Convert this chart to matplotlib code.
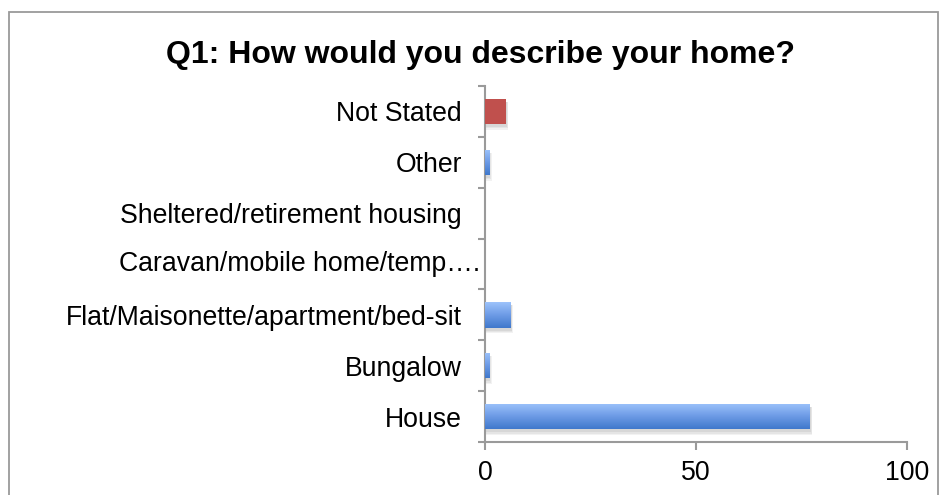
import numpy as np
import matplotlib.pyplot as plt
from matplotlib.colors import LinearSegmentedColormap
from matplotlib.patches import Rectangle
from matplotlib.transforms import blended_transform_factory

plt.rcParams['font.family'] = ['Liberation Sans', 'DejaVu Sans']

# Survey responses, bottom row first
categories = ["House", "Bungalow", "Flat/Maisonette/apartment/bed-sit",
              "Caravan/mobile home/temp….", "Sheltered/retirement housing",
              "Other", "Not Stated"]
percentages = [77, 1, 6, 0, 0, 1, 5]
xticks = [0, 50, 100]

axis_grey = "#9a9a9a"
blue_grad = LinearSegmentedColormap.from_list("bluegrad",
                                              ["#3f78cc", "#6d9be6", "#9dc3fb"])
red = "#c0504d"
label_size = 19.2

fig = plt.figure(figsize=(9.47, 4.95), dpi=100)
ax = fig.add_axes([485 / 947, 53 / 495, 422 / 947, 356 / 495])

# outer chart frame
fig.patches.append(Rectangle((9 / 947, -0.2), 929 / 947, 1.2 - 12 / 495,
                             transform=fig.transFigure, fill=False,
                             edgecolor=axis_grey, linewidth=1.3, zorder=0))

ypos = np.arange(len(categories))
colors = [red if c == "Not Stated" else "none" for c in categories]
bars = ax.barh(ypos, percentages, height=0.5, color=colors, zorder=3)

grad = np.linspace(0, 1, 256).reshape(-1, 1)
for bar, cat in zip(bars, categories):
    w = bar.get_width()
    if w <= 0:
        continue
    x0, y0 = bar.get_x(), bar.get_y()
    h = bar.get_height()
    # soft drop shadow, a few stacked translucent layers
    for k, a in enumerate([0.05, 0.05, 0.06]):
        grow = 0.25 * (2 - k)
        ax.add_patch(Rectangle((x0 + 0.3 - grow * 0.5, y0 - 0.06 - grow * 0.1),
                               w + grow, h + grow * 0.1, facecolor="#000000",
                               alpha=a, linewidth=0, zorder=2))
    if cat != "Not Stated":
        im = ax.imshow(grad, extent=[x0, x0 + w, y0, y0 + h], cmap=blue_grad,
                       aspect="auto", origin="lower", zorder=3)
        im.set_clip_path(bar)

ax.set_xlim(0, 100)
ax.set_ylim(-0.5, len(categories) - 0.5)
ax.set_aspect("auto")

for side in ["top", "right"]:
    ax.spines[side].set_visible(False)
for side in ["left", "bottom"]:
    ax.spines[side].set_color(axis_grey)
    ax.spines[side].set_linewidth(1.5)

ax.set_xticks(xticks)
ax.tick_params(axis="x", direction="out", length=6, width=1.5, color=axis_grey,
               labelsize=label_size, pad=7)

# ticks sit between categories, labels at the centres
ax.set_yticks(np.arange(-0.5, len(categories)))
ax.set_yticklabels([])
ax.set_yticks(ypos, minor=True)
ax.set_yticklabels([c if not c.startswith("Caravan") else "" for c in categories],
                   minor=True)
ax.tick_params(axis="y", which="major", direction="out", length=5, width=1.5,
               color=axis_grey)
ax.tick_params(axis="y", which="minor", length=0, labelsize=label_size, pad=16.5)

trans = blended_transform_factory(ax.transAxes, ax.transData)
ax.text(-0.012, categories.index("Caravan/mobile home/temp…."),
        "Caravan/mobile home/temp….", transform=trans, ha="right", va="center",
        fontsize=label_size, clip_on=False)

fig.text(480 / 947, 1 - 55 / 495, "Q1: How would you describe your home?",
         ha="center", va="center", fontsize=23, fontweight="bold")

fig.savefig("out.png", dpi=100)
